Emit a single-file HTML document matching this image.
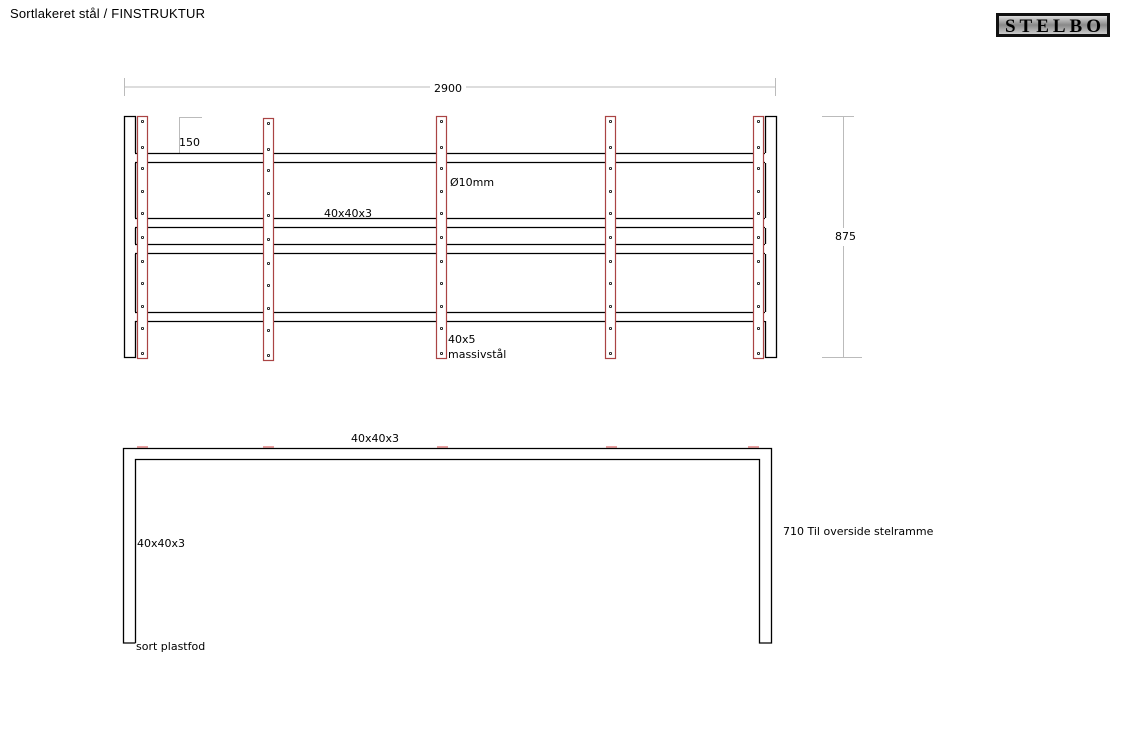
<!DOCTYPE html>
<html><head><meta charset="utf-8"><style>
html,body{margin:0;padding:0;background:#fff;}
svg{display:block;}
text{font-family:"DejaVu Sans","Liberation Sans",sans-serif;font-size:11px;fill:#000;}
</style></head><body>
<svg width="1129" height="749" viewBox="0 0 1129 749" xmlns="http://www.w3.org/2000/svg">
<defs>
<g id="dots">
<g fill="#fff" stroke="#000" stroke-width="0.8">
<circle cx="5" cy="5" r="1.1"/><circle cx="5" cy="31" r="1.1"/><circle cx="5" cy="52" r="1.1"/><circle cx="5" cy="75" r="1.1"/><circle cx="5" cy="97" r="1.1"/><circle cx="5" cy="121" r="1.1"/><circle cx="5" cy="145" r="1.1"/><circle cx="5" cy="167" r="1.1"/><circle cx="5" cy="190" r="1.1"/><circle cx="5" cy="212" r="1.1"/><circle cx="5" cy="237" r="1.1"/>
</g>
</g>
<linearGradient id="lg" x1="0" y1="0" x2="0" y2="1"><stop offset="0" stop-color="#ddd"/><stop offset="0.5" stop-color="#888"/><stop offset="1" stop-color="#ccc"/></linearGradient>
</defs>
<text x="10" y="18" textLength="195" style="font-family:'Liberation Sans',sans-serif;font-size:13px">Sortlakeret stål  / FINSTRUKTUR</text>
<rect x="996" y="13" width="114" height="24" fill="#111"/>
<rect x="999" y="16" width="108" height="18" fill="url(#lg)"/>
<text x="1053" y="32" text-anchor="middle" textLength="96" style="font-family:'Liberation Serif',serif;font-size:19px;font-weight:bold" fill="#000">STELBO</text>

<g stroke="#bbb" stroke-width="1">
<line x1="124" y1="87" x2="430" y2="87"/><line x1="466" y1="87" x2="776" y2="87"/>
<line x1="124.5" y1="78" x2="124.5" y2="96"/><line x1="775.5" y1="78" x2="775.5" y2="96"/>
<line x1="843.5" y1="116" x2="843.5" y2="228"/><line x1="843.5" y1="246" x2="843.5" y2="358"/>
<line x1="822" y1="116.5" x2="854" y2="116.5"/><line x1="822" y1="357.5" x2="862" y2="357.5"/>
<line x1="179.5" y1="118" x2="179.5" y2="153"/><line x1="179" y1="117.5" x2="202" y2="117.5"/>
</g>
<text x="434" y="92">2900</text>
<text x="835" y="240">875</text>
<text x="179" y="146">150</text>

<g stroke="#000" stroke-width="1.3">
<line x1="135" y1="153.5" x2="765" y2="153.5"/><line x1="135" y1="162.5" x2="765" y2="162.5"/>
<line x1="135" y1="218.5" x2="765" y2="218.5"/><line x1="135" y1="227.5" x2="765" y2="227.5"/>
<line x1="135" y1="244.5" x2="765" y2="244.5"/><line x1="135" y1="253.5" x2="765" y2="253.5"/>
<line x1="135" y1="312.5" x2="765" y2="312.5"/><line x1="135" y1="321.5" x2="765" y2="321.5"/>
</g>
<g stroke="#000" stroke-width="1.3" fill="none">
<polyline points="135.5,153 135.5,116.5 124.5,116.5 124.5,357.5 135.5,357.5 135.5,321"/>
<line x1="135.5" y1="163" x2="135.5" y2="218"/><line x1="135.5" y1="228" x2="135.5" y2="244"/><line x1="135.5" y1="254" x2="135.5" y2="312"/>
<polyline points="765.5,153 765.5,116.5 776.5,116.5 776.5,357.5 765.5,357.5 765.5,321"/>
<line x1="765.5" y1="163" x2="765.5" y2="218"/><line x1="765.5" y1="228" x2="765.5" y2="244"/><line x1="765.5" y1="254" x2="765.5" y2="312"/>
</g>
<g fill="#fff" stroke="#a44" stroke-width="1.2">
<rect x="137.5" y="116.5" width="10" height="242"/>
<rect x="263.5" y="118.5" width="10" height="242"/>
<rect x="436.5" y="116.5" width="10" height="242"/>
<rect x="605.5" y="116.5" width="10" height="242"/>
<rect x="753.5" y="116.5" width="10" height="242"/>
</g>
<use href="#dots" x="137.5" y="116.5"/>
<use href="#dots" x="263.5" y="118.5"/>
<use href="#dots" x="436.5" y="116.5"/>
<use href="#dots" x="605.5" y="116.5"/>
<use href="#dots" x="753.5" y="116.5"/>
<text x="450" y="186">Ø10mm</text>
<text x="324" y="217">40x40x3</text>
<text x="448" y="343">40x5</text>
<text x="448" y="358">massivstål</text>

<g fill="#e9a0a0">
<rect x="137" y="446" width="11" height="2"/><rect x="263" y="446" width="11" height="2"/><rect x="437" y="446" width="11" height="2"/><rect x="606" y="446" width="11" height="2"/><rect x="748" y="446" width="11" height="2"/>
</g>
<g stroke="#000" stroke-width="1.3" fill="none">
<polyline points="135.5,643 123.5,643 123.5,448.5 771.5,448.5 771.5,643 759.5,643 759.5,459.5 135.5,459.5 135.5,643"/>
</g>
<text x="351" y="442">40x40x3</text>
<text x="137" y="547">40x40x3</text>
<text x="136" y="650">sort plastfod</text>
<text x="783" y="535">710 Til overside stelramme</text>
</svg>
</body></html>
